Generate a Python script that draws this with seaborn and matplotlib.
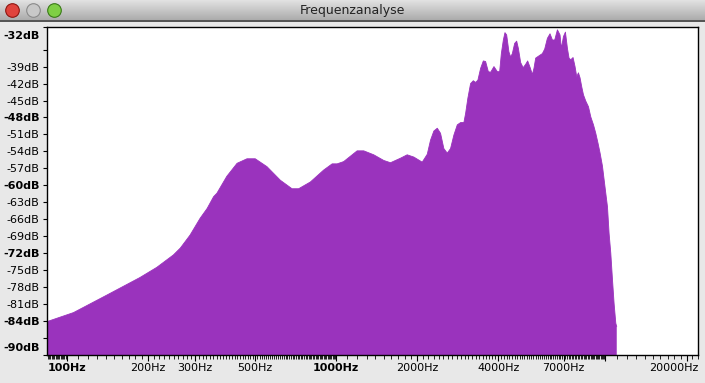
import numpy as np
import pandas as pd
import matplotlib
matplotlib.use("Agg")
import matplotlib.pyplot as plt
import matplotlib.transforms as mtransforms
from matplotlib.ticker import FixedLocator, LogLocator, NullFormatter
from matplotlib.patches import Rectangle, Circle
import seaborn as sns

# ---------------- data ----------------
freq_hz = [84.5, 106, 141, 187, 216, 249, 264, 287, 313, 332, 351, 361, 393, 429,
           467, 501, 554, 621, 686, 726, 803, 899, 967, 1009, 1067, 1197, 1267,
           1380, 1503, 1592, 1734, 1836, 1944, 2088, 2180, 2242, 2306, 2375, 2442,
           2512, 2586, 2660, 2737, 2818, 2899, 2981, 3025, 3084, 3157, 3231, 3295,
           3360, 3440, 3520, 3589, 3674, 3747, 3855, 3968, 4047, 4106, 4177, 4235,
           4297, 4381, 4446, 4511, 4601, 4681, 4750, 4844, 4948, 5055, 5142, 5254,
           5353, 5427, 5507, 5664, 5831, 5948, 6087, 6225, 6353, 6479, 6631, 6780,
           6861, 6981, 7101, 7224, 7324, 7430, 7579, 7709, 7822, 7936, 8047, 8165,
           8285, 8450, 8647, 8820, 9025, 9204, 9387, 9549, 9745, 10026, 10172,
           10313, 10464, 10617, 10764, 10923, 11010]
level_db = [-84.1, -82.5, -79.4, -76.3, -74.5, -72.3, -71.1, -68.8, -65.8, -64.1,
            -62.0, -61.4, -58.4, -56.1, -55.3, -55.3, -56.7, -59.1, -60.6, -60.6,
            -59.4, -57.3, -56.2, -56.2, -55.8, -53.9, -53.9, -54.6, -55.6, -56.0,
            -55.2, -54.6, -55.0, -55.9, -54.5, -52.0, -50.4, -49.9, -50.8, -53.5,
            -54.3, -53.5, -51.1, -49.3, -48.9, -48.9, -47.3, -44.6, -42.0, -41.5,
            -41.8, -41.4, -39.3, -38.0, -38.1, -39.9, -40.0, -39.0, -39.9, -39.9,
            -36.7, -34.3, -33.0, -33.4, -36.4, -37.3, -36.7, -34.9, -34.5, -35.8,
            -38.3, -39.2, -38.6, -38.0, -39.2, -40.4, -39.3, -37.5, -37.1, -36.7,
            -35.9, -34.0, -33.2, -34.3, -34.3, -32.5, -33.4, -35.8, -33.7, -32.9,
            -35.8, -37.5, -37.8, -37.4, -39.0, -40.8, -40.1, -41.0, -42.6, -44.0,
            -45.1, -46.1, -47.9, -49.3, -50.8, -52.6, -54.3, -56.6, -61.4, -63.8,
            -68.5, -72.0, -76.7, -80.9, -84.4, -85.0]

y_ticks = [-32, -36, -39, -42, -45, -48, -51, -54, -57, -60, -63, -66, -69, -72,
           -75, -78, -81, -84, -87, -90]
y_labels = ["-32dB", "", "-39dB", "-42dB", "-45dB", "-48dB", "-51dB", "-54dB",
            "-57dB", "-60dB", "-63dB", "-66dB", "-69dB", "-72dB", "-75dB", "-78dB",
            "-81dB", "-84dB", "", "-90dB"]
y_bold = ["-32dB", "-48dB", "-60dB", "-72dB", "-84dB", "-90dB"]

x_ticks = [100, 200, 300, 500, 1000, 2000, 4000, 7000, 10000, 20000]
x_labels = ["100Hz", "200Hz", "300Hz", "500Hz", "1000Hz", "2000Hz", "4000Hz",
            "7000Hz", "", "20000Hz"]
x_bold = ["100Hz", "1000Hz"]

title = "Frequenzanalyse"
fill_color = "#9a33bd"

# ---------------- figure ----------------
sns.set_theme(style="white")
plt.rcParams["font.family"] = ["DejaVu Sans"]

W, H = 705, 383
fig = plt.figure(figsize=(W / 100, H / 100), dpi=100)
fig.patch.set_facecolor("#e8e8e8")

# window title bar
bar = fig.add_axes([0, 1 - 21 / H, 1, 21 / H])
bar.set_axis_off()
grad = np.linspace(0, 1, 64).reshape(-1, 1)
bar.imshow(grad, aspect="auto", cmap=matplotlib.colors.LinearSegmentedColormap.from_list(
    "tb", ["#e2e2e2", "#a9a9a9"]), extent=[0, 1, 0, 1], origin="upper")
bar.set_xlim(0, 1)
bar.set_ylim(0, 1)
fig.add_artist(Rectangle((0, 1 - 21.5 / H), 1, 1 / H, transform=fig.transFigure,
                         color="#555555", lw=0))
for cx, c1, c2 in [(12.5, "#e0433c", "#8f1510"), (33.5, "#c8c8c8", "#8a8a8a"),
                   (54.5, "#7fcf45", "#3a7a18")]:
    fig.add_artist(Circle((cx, H - 10.5), 6.8, transform=mtransforms.IdentityTransform(),
                          facecolor=c1, edgecolor=c2, lw=0.8))
fig.text(352 / W, 1 - 10.5 / H, title, ha="center", va="center", fontsize=9,
         color="#222222")

# plot area
ax = fig.add_axes([47 / W, 28 / H, 651 / W, 328 / H])
ax.set_facecolor("white")
df = pd.DataFrame({"freq": freq_hz, "db": level_db})
ax.fill_between(df["freq"], df["db"], -120, color=fill_color, lw=0)
sns.lineplot(data=df, x="freq", y="db", ax=ax, color=fill_color, lw=0.6)
ax.set_xscale("log")
ax.set_xlim(84.5, 22050)
ax.set_ylim(-90, -32)
ax.set_xlabel("")
ax.set_ylabel("")

for s in ax.spines.values():
    s.set_color("black")
    s.set_linewidth(1.0)
    s.set_visible(True)

ax.yaxis.set_major_locator(FixedLocator(y_ticks))
ax.set_yticklabels(y_labels)
ax.tick_params(axis="y", which="major", direction="out", length=3.2, width=0.8,
               pad=2.2, labelsize=8, colors="black", left=True)
for lab in ax.get_yticklabels():
    if lab.get_text() in y_bold:
        lab.set_fontweight("bold")
    if lab.get_text() == "-32dB":
        lab.set_transform(lab.get_transform() + mtransforms.ScaledTranslation(0, -8 / 100, fig.dpi_scale_trans))
    if lab.get_text() == "-90dB":
        lab.set_transform(lab.get_transform() + mtransforms.ScaledTranslation(0, 8 / 100, fig.dpi_scale_trans))

ax.xaxis.set_major_locator(FixedLocator(x_ticks))
ax.set_xticklabels(x_labels)
ax.xaxis.set_minor_locator(LogLocator(base=10, subs=np.arange(1.0, 10.0, 0.1), numticks=200))
ax.xaxis.set_minor_formatter(NullFormatter())
ax.tick_params(axis="x", which="major", direction="out", length=4.5, width=0.8,
               pad=1.5, labelsize=8, colors="black", bottom=True)
ax.tick_params(axis="x", which="minor", direction="out", length=2.6, width=0.6,
               colors="black", bottom=True)
for lab in ax.get_xticklabels():
    if lab.get_text() in x_bold:
        lab.set_fontweight("bold")
    if lab.get_text() == "20000Hz":
        lab.set_horizontalalignment("right")
        lab.set_transform(lab.get_transform() + mtransforms.ScaledTranslation(12 / 100, 0, fig.dpi_scale_trans))

fig.savefig("out.png", dpi=100, facecolor=fig.get_facecolor())
